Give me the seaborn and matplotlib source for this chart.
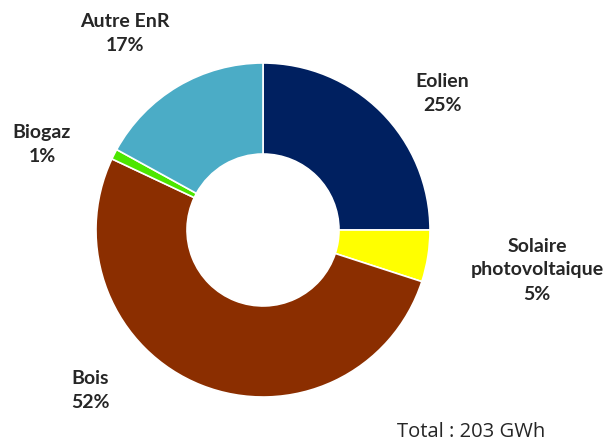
import matplotlib
matplotlib.use("Agg")
import matplotlib.pyplot as plt
import seaborn as sns

sns.set_theme(style="white")
plt.rcParams['font.family'] = ['Lato', 'DejaVu Sans']

categories = ["Eolien", "Solaire\nphotovoltaique", "Bois", "Biogaz", "Autre EnR"]
values = [25, 5, 52, 1, 17]
colors = ["#002060", "#FFFF00", "#8B2E00", "#4CE600", "#4BACC6"]
label_pos = [(442, 350), (537, 173), (90, 53), (42, 299), (125, 410)]
total_text = "Total : 203 GWh"

W, H = 611, 443
fig = plt.figure(figsize=(W / 100, H / 100), dpi=100)
ax = fig.add_axes([0, 0, 1, 1])

cx, cy, r = 263, H - 230, 167
ax.pie(values, colors=colors, startangle=90, counterclock=False,
       center=(cx, cy), radius=r, frame=True,
       wedgeprops=dict(width=r * 0.545, edgecolor="white", linewidth=1.2))
ax.set_xlim(0, W)
ax.set_ylim(0, H)
ax.axis("off")

total = sum(values)
for cat, v, (x, y) in zip(categories, values, label_pos):
    ax.text(x, y, f"{cat}\n{round(100 * v / total)}%", ha="center", va="center",
            fontsize=14, fontweight="bold", color="#262626", linespacing=1.5)

ax.text(397, H - 432, total_text, ha="left", va="center", fontsize=14.5,
        color="#262626", family=['Open Sans', 'DejaVu Sans'])

fig.savefig("out.png", dpi=100)
